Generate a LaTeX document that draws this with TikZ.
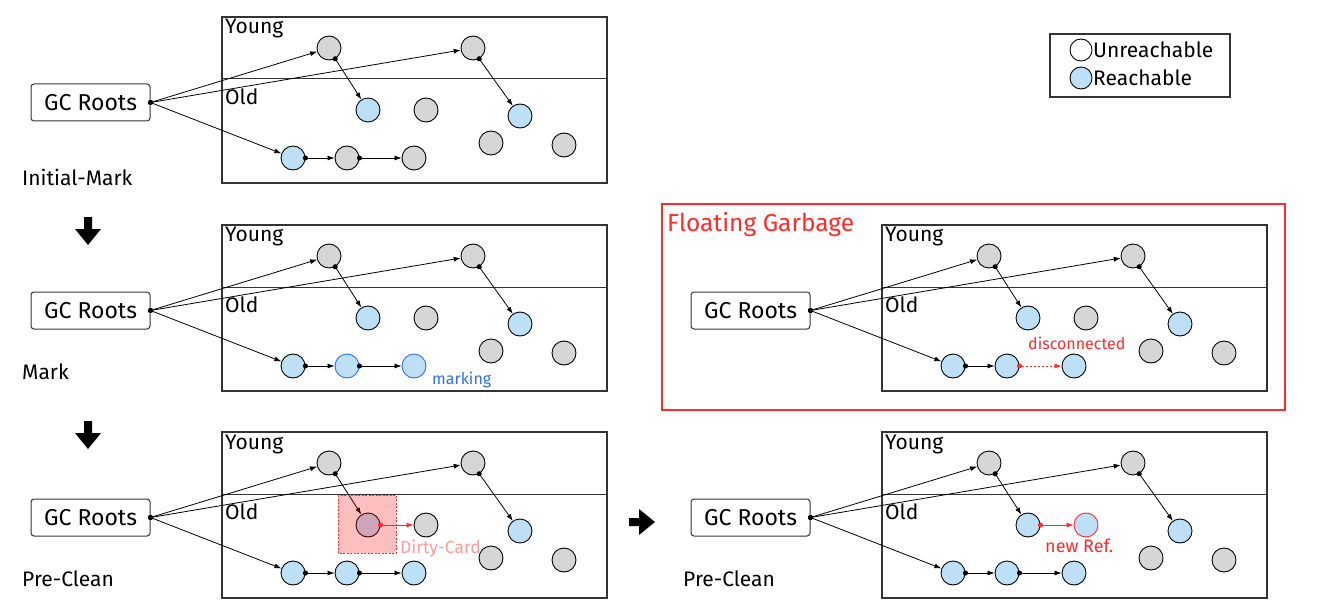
\documentclass[tikz,border=0pt]{standalone}
\usepackage{fontspec}
\setmainfont{Fira Sans}
\usetikzlibrary{arrows.meta,calc}
\definecolor{ngray}{HTML}{D6D6D6}
\definecolor{nblue}{HTML}{BDE0F7}
\definecolor{boxline}{HTML}{333333}
\definecolor{gcred}{HTML}{FF2A2A}
\definecolor{markblue}{HTML}{2F6FF0}
\definecolor{dirtypink}{HTML}{FF9A9A}
\tikzset{
  obj/.style={circle, draw=black, line width=0.9pt, minimum size=24pt, inner sep=0pt},
  un/.style={obj, fill=ngray},
  re/.style={obj, fill=nblue},
  remark/.style={obj, fill=nblue, draw=markblue},
  renew/.style={obj, fill=nblue, draw=gcred},
  heap/.style={draw=boxline, line width=1.2pt},
  roots/.style={draw=boxline, line width=1pt, rounded corners=3pt, minimum width=119pt, minimum height=37pt, inner sep=0pt, font=\fontsize{23}{27}\selectfont},
  gen/.style={anchor=west, inner sep=0pt, font=\fontsize{21}{25}\selectfont},
  phase/.style={anchor=west, inner sep=0pt, font=\fontsize{21}{25}\selectfont},
  note/.style={anchor=west, inner sep=0pt, font=\fontsize{16}{19}\selectfont},
  ref/.style={line width=0.8pt, {Circle[length=5pt]}-{Latex[length=7pt,width=5pt]}, shorten <=-2.5pt},
  redref/.style={ref, draw=gcred},
  reddash/.style={ref, draw=gcred, dash pattern=on 2pt off 2pt},
  bigarrow/.style={fill=black},
}
% #1 prefix, #2 dx, #3 dy, #4 O1 style, #5 O2 style, #6 B2 style, #7 B3 style, #8 B2->B3 connector style
\newcommand\gcpanel[8]{%
\begin{scope}[shift={(#2,#3)}]
  \draw[heap] (222,17) rectangle (607,183);
  \draw[heap, line width=1pt] (222,79) -- (607,79);
  \node[gen] (#1young) at (225,29) {Young};
  \node[gen] (#1old) at (225,97) {Old};
  \node[roots] (#1gc) at (90.5,102.5) {GC Roots};
  \node[un] (#1y1) at (329,48) {};
  \node[un] (#1y2) at (473,48) {};
  \node[#4] (#1o1) at (368,110) {};
  \node[#5] (#1o2) at (426,110) {};
  \node[re] (#1o3) at (520,116) {};
  \node[un] (#1o4) at (491,143) {};
  \node[un] (#1o5) at (564,145) {};
  \node[re] (#1b1) at (293,158) {};
  \node[#6] (#1b2) at (347,158) {};
  \node[#7] (#1b3) at (414,158) {};
  \draw[ref] (#1gc.east) -- (#1y1);
  \draw[ref] (#1gc.east) -- (#1y2);
  \draw[ref] (#1gc.east) -- (#1b1);
  \draw[ref] (#1y1.-60) -- (#1o1);
  \draw[ref] (#1y2.-60) -- (#1o3);
  \draw[ref] (#1b1.east) -- (#1b2);
  \draw[#8] (#1b2.east) -- (#1b3);
\end{scope}}
\begin{document}
\begin{tikzpicture}[x=1pt,y=-1pt]
\useasboundingbox[fill=white] (0,0) rectangle (1330,615);
% panels
\gcpanel{a}{0}{0}{re}{un}{un}{un}{ref}
\gcpanel{b}{0}{208}{re}{un}{remark}{remark}{ref}
\gcpanel{c}{0}{415}{re}{un}{re}{re}{ref}
\gcpanel{d}{660}{208}{re}{un}{re}{re}{draw=none}
\gcpanel{e}{660}{415}{re}{renew}{re}{re}{ref}
% phase labels
\node[phase] (lab1) at (22,177) {Initial-Mark};
\node[phase] (lab2) at (22,372) {Mark};
\node[phase] (lab3) at (22,579) {Pre-Clean};
\node[phase] (lab4) at (683,579) {Pre-Clean};
% big arrows
\fill[bigarrow] (84,217) -- (92,217) -- (92,229) -- (101,229) -- (88,245) -- (75,229) -- (84,229) -- cycle;
\fill[bigarrow] (84,421) -- (92,421) -- (92,433) -- (101,433) -- (88,449) -- (75,433) -- (84,433) -- cycle;
\fill[bigarrow] (629,518) -- (639,518) -- (639,509) -- (655,522) -- (639,535) -- (639,526) -- (629,526) -- cycle;
% mark annotation
\node[note, text=markblue] (markingtxt) at (432,380) {marking};
% dirty card
\fill[red, fill opacity=0.25] (338,495) rectangle (396,553);
\draw[gcred, line width=0.8pt, dash pattern=on 2pt off 1.5pt] (338,495) rectangle (396,553);
\draw[redref] (co1.east) -- (co2);
\node[note, text=dirtypink, font=\fontsize{17.5}{21}\selectfont] (dirtytxt) at (400,549) {Dirty-Card};
% floating garbage
\draw[gcred, line width=2.2pt] (662,204) rectangle (1285,410);
\node[anchor=west, inner sep=0pt, text=gcred, font=\fontsize{24.5}{29}\selectfont] (fgtxt) at (667,225) {Floating Garbage};
\draw[reddash] (db2.east) -- (db3);
\node[note, text=gcred] (disctxt) at (1028,343) {disconnected};
% new reference
\draw[redref] (eo1.east) -- (eo2);
\node[note, text=gcred, font=\fontsize{18}{21}\selectfont] (newtxt) at (1045,546) {new Ref.};
% legend
\draw[heap] (1050,34) rectangle (1230,97);
\node[obj, fill=white, minimum size=22pt] (legu) at (1081,50) {};
\node[obj, fill=nblue, minimum size=22pt] (legr) at (1081,78) {};
\node[anchor=west, inner sep=0pt, font=\fontsize{21}{25}\selectfont] (legutxt) at (1093,50) {Unreachable};
\node[anchor=west, inner sep=0pt, font=\fontsize{21}{25}\selectfont] (legrtxt) at (1093,78) {Reachable};
\end{tikzpicture}
\end{document}
